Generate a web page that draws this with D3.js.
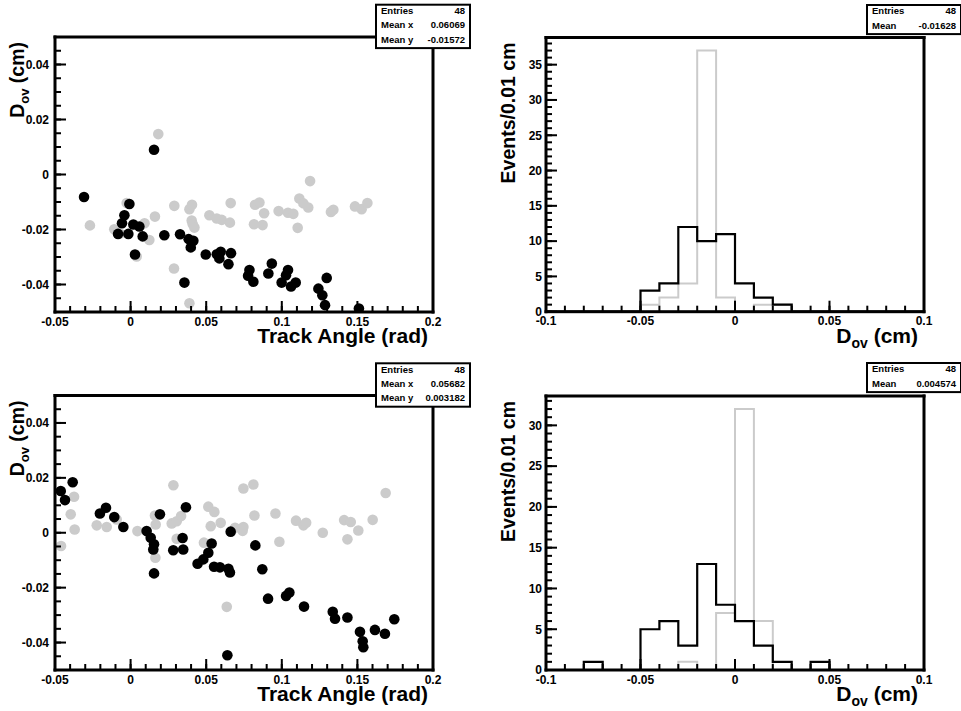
<!DOCTYPE html>
<html><head><meta charset="utf-8">
<script src="https://cdn.jsdelivr.net/npm/d3@7"></script>
<style>
html,body{margin:0;padding:0;background:#fff;}
svg{display:block;}
text{font-family:"Liberation Sans",Arial,Helvetica,sans-serif;font-weight:bold;fill:#000;}
</style>
</head><body>
<svg id="c" width="961" height="711"></svg>
<script>
// ---------------- DATA ----------------
const topScatterGray = [[0.0183,0.0147],[0.1187,-0.0024],[-0.0269,-0.0185],[-0.0108,-0.0199],[-0.007,-0.0215],[-0.0026,-0.0104],
 [0.0092,-0.0177],[0.0124,-0.0238],[0.0161,-0.0153],[0.004,-0.0298],[0.0289,-0.0114],[0.0287,-0.0342],[0.0389,-0.0126],
 [0.0406,-0.011],[0.0404,-0.0167],[0.0411,-0.0181],[0.0422,-0.0193],[0.0389,-0.0468],[0.0521,-0.0148],[0.057,-0.016],
 [0.0603,-0.0165],[0.0657,-0.0175],[0.0662,-0.0104],[0.0823,-0.011],[0.0852,-0.0102],[0.0883,-0.0141],[0.0816,-0.0181],
 [0.0873,-0.0184],[0.0979,-0.0133],[0.1041,-0.0139],[0.1076,-0.0143],[0.1116,-0.0087],[0.1143,-0.0105],[0.1175,-0.012],
 [0.1105,-0.0194],[0.1325,-0.0136],[0.1341,-0.0128],[0.1484,-0.0116],[0.1528,-0.0126],[0.1566,-0.0104]];
const topScatterBlack = [[-0.0308,-0.0082],[0.0155,0.009],[-0.0008,-0.0107],[-0.0041,-0.0148],[-0.0057,-0.0177],[-0.0083,-0.0216],
 [-0.0015,-0.0216],[0.0018,-0.0182],[0.0058,-0.0189],[0.008,-0.0225],[0.0029,-0.0291],[0.0223,-0.0221],[0.0327,-0.0217],
 [0.0384,-0.0235],[0.0415,-0.0241],[0.0398,-0.0265],[0.0356,-0.0393],[0.0497,-0.0291],[0.057,-0.029],[0.0596,-0.0281],
 [0.0587,-0.0305],[0.0647,-0.0326],[0.0664,-0.0286],[0.0786,-0.0347],[0.0777,-0.0368],[0.0812,-0.039],[0.0934,-0.0324],
 [0.0911,-0.036],[0.1041,-0.0347],[0.1028,-0.0366],[0.0999,-0.0393],[0.1061,-0.0407],[0.1092,-0.0393],[0.1297,-0.0376],
 [0.1242,-0.0415],[0.1268,-0.0439],[0.1286,-0.0475],[0.151,-0.0487]];
const botScatterGray = [[-0.046,-0.0048],[-0.0396,0.0067],[-0.0374,0.0131],[-0.037,0.0012],[-0.0224,0.0027],[-0.0158,0.0021],
 [-0.0092,0.0048],[0.0045,0.0006],[0.0161,0.0063],[0.0166,0.003],[0.0164,-0.0091],[0.0283,0.0173],[0.0272,0.0034],
 [0.0305,0.0042],[0.0334,0.0061],[0.0305,-0.0022],[0.0514,0.0095],[0.0554,0.0076],[0.053,0.0024],[0.0596,0.0036],
 [0.0485,-0.0036],[0.0636,-0.027],[0.0691,0.0018],[0.0746,0.0021],[0.0741,0.0007],[0.0746,0.0161],[0.0812,0.0176],
 [0.0819,0.0063],[0.0958,0.007],[0.0984,-0.0033],[0.1094,0.0044],[0.1143,0.0027],[0.1161,0.0036],[0.1271,0.0],
 [0.1412,0.0046],[0.1456,0.0039],[0.1434,-0.0024],[0.1506,0.0008],[0.1601,0.0047],[0.1687,0.0145]];
const botScatterBlack = [[-0.0462,0.0152],[-0.0434,0.0119],[-0.0383,0.0184],[-0.0203,0.007],[-0.0163,0.0091],[-0.0108,0.0057],
 [-0.0048,0.0021],[0.0106,0.0006],[0.0133,-0.0018],[0.0155,-0.0042],[0.015,-0.0061],[0.0155,-0.0148],[0.0194,0.0067],
 [0.0282,-0.0064],[0.0344,-0.0019],[0.0348,-0.0061],[0.0366,0.0093],[0.0443,-0.0113],[0.0481,-0.0097],[0.0514,-0.0073],
 [0.0536,-0.0039],[0.0552,-0.0124],[0.0591,-0.0126],[0.0647,-0.0131],[0.0657,-0.0145],[0.0662,0.0004],[0.064,-0.0446],
 [0.0825,-0.0046],[0.0871,-0.0133],[0.0909,-0.024],[0.1028,-0.023],[0.105,-0.0218],[0.1147,-0.0269],[0.1337,-0.0288],
 [0.1352,-0.0313],[0.1434,-0.0309],[0.1517,-0.0361],[0.1535,-0.0395],[0.1539,-0.0417],[0.1616,-0.0354],[0.1682,-0.0368],
 [0.1744,-0.0315]];

const histBinLow = -0.1, histBinWidth = 0.01;
const topHistBlack = [0,0,0,0,0,3,4,12,10,11,4,2,1,0,0,0,0,0,0,0];
const topHistGray  = [0,0,0,0,0,1,2,4,37,2,0,1,1,0,0,0,0,0,0,0];
const botHistBlack = [0,0,1,0,0,5,6,3,13,8,6,3,1,0,1,0,0,0,0,0];
const botHistGray  = [0,0,0,0,0,0,0,1,0,7,32,6,0,0,0,0,0,0,0,0];

const scatterXDomain = [-0.05, 0.2];
const scatterYDomain = [-0.05, 0.05];
const scatterXTicks = [-0.05, 0, 0.05, 0.1, 0.15, 0.2];
const scatterYTicks = [-0.04, -0.02, 0, 0.02, 0.04];
const histXDomain = [-0.1, 0.1];
const histXTicks = [-0.1, -0.05, 0, 0.05, 0.1];
const topHistYTicks = [0, 5, 10, 15, 20, 25, 30, 35];
const botHistYTicks = [0, 5, 10, 15, 20, 25, 30];

const statsTL = [["Entries","48"],["Mean x","0.06069"],["Mean y","-0.01572"]];
const statsTR = [["Entries","48"],["Mean","-0.01628"]];
const statsBL = [["Entries","48"],["Mean x","0.05682"],["Mean y","0.003182"]];
const statsBR = [["Entries","48"],["Mean","0.004574"]];

// ---------------- LAYOUT ----------------
const svg = d3.select("#c");
const GRAY = "#cbcbcb";
const fmt = v => String(+(+v).toFixed(4));

const panels = [
  {kind:"scatter", left:55, right:433, top:37, bottom:312, gray:topScatterGray, black:topScatterBlack, stats:statsTL, sx:376, sy:4.7},
  {kind:"hist", left:546, right:924, top:37.5, bottom:311.7, gray:topHistGray, black:topHistBlack, yTicks:topHistYTicks, stats:statsTR, sx:867, sy:5},
  {kind:"scatter", left:55, right:433, top:395.5, bottom:670, gray:botScatterGray, black:botScatterBlack, stats:statsBL, sx:376, sy:363.3},
  {kind:"hist", left:546, right:924, top:396, bottom:670, gray:botHistGray, black:botHistBlack, yTicks:botHistYTicks, stats:statsBR, sx:867, sy:363}
];

function rangeStep(a, b, s) {
  const out = [];
  const n = Math.round((b - a) / s);
  for (let i = 0; i <= n; i++) out.push(+(a + i * s).toFixed(6));
  return out;
}

panels.forEach((p, idx) => {
  const g = svg.append("g");
  let x, y;
  if (p.kind === "scatter") {
    x = d3.scaleLinear().domain(scatterXDomain).range([p.left, p.right]);
    y = d3.scaleLinear().domain(scatterYDomain).range([p.bottom, p.top]);
  } else {
    x = d3.scaleLinear().domain(histXDomain).range([p.left, p.right]);
    const ymax = d3.max(p.gray.concat(p.black)) * 1.05;
    y = d3.scaleLinear().domain([0, ymax]).range([p.bottom, p.top]);
  }

  const clipId = "clip" + idx;
  svg.append("clipPath").attr("id", clipId).append("rect")
    .attr("x", p.left).attr("y", p.top).attr("width", p.right - p.left).attr("height", p.bottom - p.top);
  const plot = g.append("g").attr("clip-path", `url(#${clipId})`);

  if (p.kind === "scatter") {
    plot.append("g").selectAll("circle").data(p.gray).join("circle")
      .attr("cx", d => x(d[0])).attr("cy", d => y(d[1])).attr("r", 5.3).attr("fill", GRAY);
    plot.append("g").selectAll("circle").data(p.black).join("circle")
      .attr("cx", d => x(d[0])).attr("cy", d => y(d[1])).attr("r", 5.3).attr("fill", "#000");
  } else {
    const stepPts = counts => {
      const pts = [];
      counts.forEach((c, i) => {
        pts.push([histBinLow + i * histBinWidth, c]);
        pts.push([histBinLow + (i + 1) * histBinWidth, c]);
      });
      return pts;
    };
    const line = d3.line().x(d => x(d[0])).y(d => y(d[1]));
    plot.append("path").attr("d", line(stepPts(p.gray))).attr("fill", "none")
      .attr("stroke", GRAY).attr("stroke-width", 2);
    plot.append("path").attr("d", line(stepPts(p.black))).attr("fill", "none")
      .attr("stroke", "#000").attr("stroke-width", 2.2);
  }

  // ticks
  const xMajor = p.kind === "scatter" ? scatterXTicks : histXTicks;
  const xMinor = p.kind === "scatter" ? rangeStep(-0.05, 0.2, 0.01) : rangeStep(-0.1, 0.1, 0.01);
  const yMajor = p.kind === "scatter" ? scatterYTicks : p.yTicks;
  const yMinor = p.kind === "scatter" ? rangeStep(-0.05, 0.05, 0.005) : d3.range(0, Math.floor(y.domain()[1]) + 1);

  const tk = g.append("g");
  const xTick = (vals, len) => tk.append("g").selectAll("rect").data(vals).join("rect")
    .attr("x", d => x(d) - 1).attr("y", p.bottom - len).attr("width", 2).attr("height", len).attr("fill", "#000");
  const yTick = (vals, len) => tk.append("g").selectAll("rect").data(vals).join("rect")
    .attr("x", p.left).attr("y", d => y(d) - 1).attr("width", len).attr("height", 2).attr("fill", "#000");
  xTick(xMinor, 6); xTick(xMajor, 11); yTick(yMinor, 6); yTick(yMajor, 11);

  // tick labels
  g.append("g").selectAll("text").data(xMajor).join("text")
    .attr("x", d => x(d)).attr("y", p.bottom + 13.5).attr("text-anchor", "middle")
    .style("font-size", "12px").text(fmt);
  g.append("g").selectAll("text").data(yMajor).join("text")
    .attr("x", p.left - (p.kind === "scatter" ? 6 : 4)).attr("y", d => y(d)).attr("dy", "0.36em")
    .attr("text-anchor", "end").style("font-size", "12px").text(fmt);

  // frame
  const fw = 3;
  const fr = g.append("g").attr("fill", "#000");
  fr.append("rect").attr("x", p.left - fw / 2).attr("y", p.top - fw / 2).attr("width", p.right - p.left + fw).attr("height", fw);
  fr.append("rect").attr("x", p.left - fw / 2).attr("y", p.bottom - fw / 2).attr("width", p.right - p.left + fw).attr("height", fw);
  fr.append("rect").attr("x", p.left - fw / 2).attr("y", p.top - fw / 2).attr("width", fw).attr("height", p.bottom - p.top + fw);
  fr.append("rect").attr("x", p.right - fw / 2).attr("y", p.top - fw / 2).attr("width", fw).attr("height", p.bottom - p.top + fw);

  // x title
  const xt = g.append("text").attr("text-anchor", "end")
    .attr("x", p.kind === "scatter" ? p.right - 5 : p.right - 6)
    .attr("y", p.bottom + 31).style("font-size", "21px");
  if (p.kind === "scatter") {
    xt.text("Track Angle (rad)");
  } else {
    xt.append("tspan").text("D");
    xt.append("tspan").attr("dy", 5).style("font-size", "14px").text("ov");
    xt.append("tspan").attr("dy", -5).text(" (cm)");
  }

  // y title
  const yt = g.append("text").attr("text-anchor", "end")
    .attr("transform", `translate(${p.left - 31},${p.top + 5}) rotate(-90)`)
    .style("font-size", "19.5px");
  if (p.kind === "scatter") {
    yt.append("tspan").text("D");
    yt.append("tspan").attr("dy", 4.5).style("font-size", "13px").text("ov");
    yt.append("tspan").attr("dy", -4.5).text(" (cm)");
  } else {
    yt.text("Events/0.01 cm");
  }

  // stats box
  const bw = 94, rowH = 14.3;
  const bh = p.stats.length * rowH + 0.5;
  const sb = svg.append("g");
  sb.append("rect").attr("x", p.sx).attr("y", p.sy).attr("width", bw).attr("height", bh)
    .attr("fill", "#fff").attr("stroke", "#000").attr("stroke-width", 2);
  p.stats.forEach((r, i) => {
    const cy = p.sy + 6 + i * rowH;
    sb.append("text").attr("x", p.sx + 5).attr("y", cy).attr("dy", "0.35em")
      .style("font-size", "9.5px").text(r[0]);
    sb.append("text").attr("x", p.sx + bw - 5).attr("y", cy).attr("dy", "0.35em")
      .attr("text-anchor", "end").style("font-size", "9.5px").text(r[1]);
  });
});
</script>
</body></html>
